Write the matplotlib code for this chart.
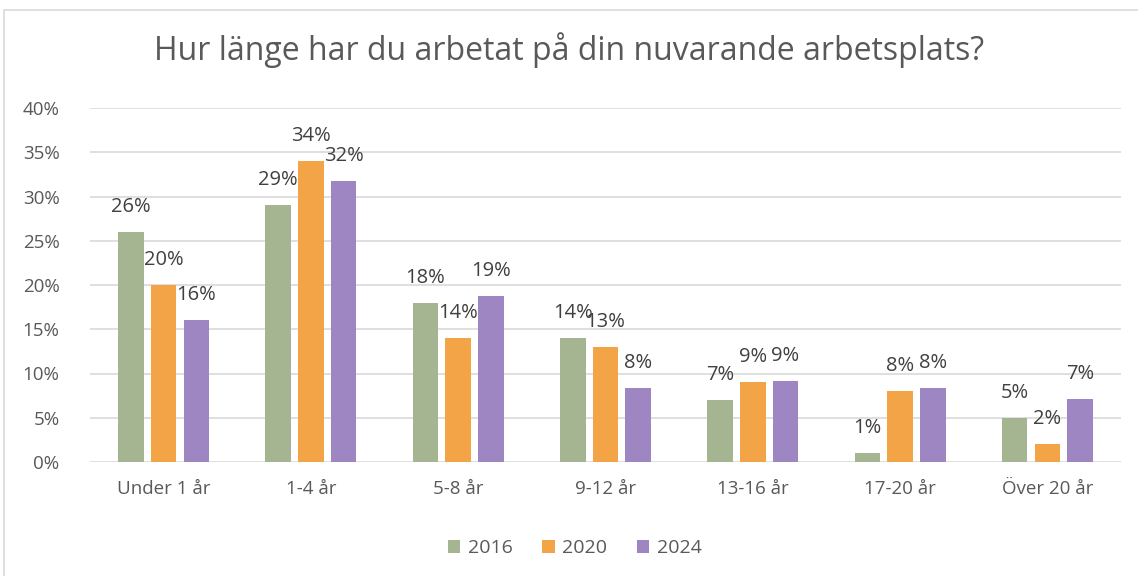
import numpy as np
import matplotlib.pyplot as plt
from matplotlib.patches import Rectangle

plt.rcParams['font.family'] = ['Open Sans', 'DejaVu Sans']

# data
categories = ['Under 1 år', '1-4 år', '5-8 år', '9-12 år', '13-16 år', '17-20 år', 'Över 20 år']
years = ['2016', '2020', '2024']
v2016 = [26, 29, 18, 14, 7, 1, 5]
v2020 = [20, 34, 14, 13, 9, 8, 2]
v2024 = [16.1, 31.8, 18.8, 8.4, 9.1, 8.4, 7.1]
series = [v2016, v2020, v2024]
colors = ['#A5B592', '#F3A447', '#9E86C2']
text_col = '#595959'

fig = plt.figure(figsize=(11.38, 5.76), dpi=100)
ax = fig.add_axes([90 / 1138, 1 - 462 / 576, 1031 / 1138, 354 / 576])

# outer border of the chart
fig.patches.append(Rectangle((4 / 1138, -0.01), 1.0, 1 - 10 / 576 + 0.01,
                             transform=fig.transFigure, fill=False,
                             edgecolor='#D9D9D9', linewidth=1.2))

x = np.arange(len(categories))
width = 0.173
step = 0.222
for i, (vals, col, yr) in enumerate(zip(series, colors, years)):
    pos = x + (i - 1) * step
    ax.bar(pos, vals, width=width, color=col, label=yr, zorder=3)
    for px, v in zip(pos, vals):
        ax.annotate(f'{round(v):.0f}%', (px, v), xytext=(0, 18), textcoords='offset points',
                    ha='center', va='center', fontsize=14.5, color='#404040')

ax.set_xlim(-0.5, len(categories) - 0.5)
ax.set_ylim(0, 40)
ax.set_yticks(range(0, 41, 5))
ax.set_yticklabels([f'{t}%' for t in range(0, 41, 5)])
ax.set_xticks(x)
ax.set_xticklabels(categories)
ax.tick_params(axis='both', length=0, labelsize=13.5, colors=text_col)
ax.tick_params(axis='y', pad=22)
ax.tick_params(axis='x', pad=13)
ax.grid(axis='y', color='#D9D9D9', linewidth=1.2, zorder=0)
for s in ax.spines.values():
    s.set_visible(False)

fig.text(0.5, 1 - 50 / 576, 'Hur länge har du arbetat på din nuvarande arbetsplats?',
         ha='center', va='center', fontsize=23, color=text_col)

fig.legend(loc='center', bbox_to_anchor=(0.505, 1 - 548 / 576), ncol=3, frameon=False,
           fontsize=14, labelcolor=text_col, handlelength=0.65, handleheight=0.65,
           handletextpad=0.4, columnspacing=1.5)

fig.savefig('out.png', dpi=100)
